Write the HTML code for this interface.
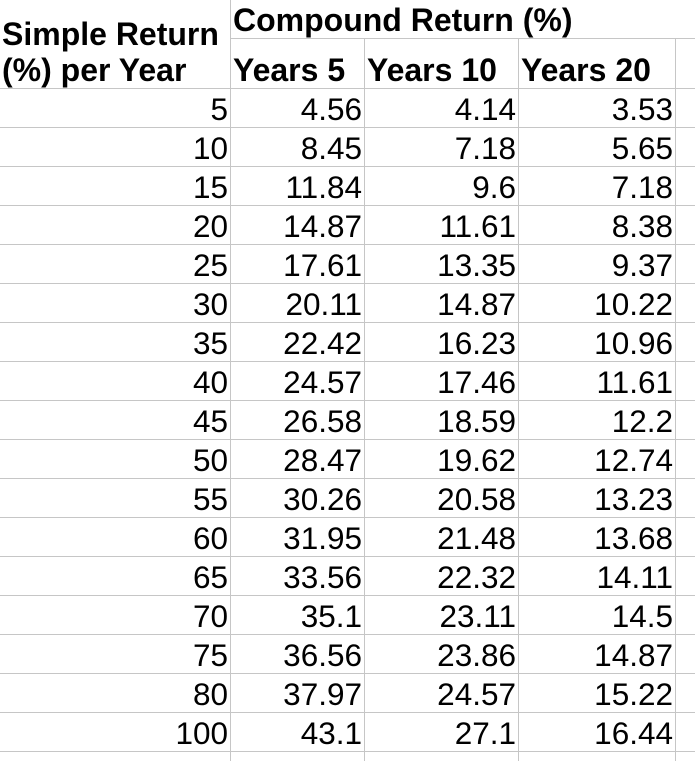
<!DOCTYPE html>
<html><head><meta charset="utf-8"><style>
html,body{margin:0;padding:0;background:#fff;}
#sheet{position:relative;width:695px;height:761px;overflow:hidden;font-family:"Liberation Sans",sans-serif;color:#000;}
.vl{position:absolute;width:1px;background:#c6c6c6;}
.hl{position:absolute;height:1px;background:#c6c6c6;}
.t{position:absolute;white-space:nowrap;font-size:31.5px;line-height:30px;}
.b{font-weight:bold;font-size:32px;}
</style></head><body>
<div id="sheet">
  <div class="t b" style="left:2px;top:19px">Simple Return</div>
  <div class="t b" style="left:2px;top:55px">(%) per Year</div>
  <div class="t b" style="left:233px;top:5px">Compound Return (%)</div>
  <div class="t b" style="left:233px;top:55px">Years 5</div>
  <div class="t b" style="left:367px;top:55px">Years 10</div>
  <div class="t b" style="left:521px;top:55px">Years 20</div>
</div>
<script>
const simple=[5,10,15,20,25,30,35,40,45,50,55,60,65,70,75,80,100];
const y5=["4.56","8.45","11.84","14.87","17.61","20.11","22.42","24.57","26.58","28.47","30.26","31.95","33.56","35.1","36.56","37.97","43.1"];
const y10=["4.14","7.18","9.6","11.61","13.35","14.87","16.23","17.46","18.59","19.62","20.58","21.48","22.32","23.11","23.86","24.57","27.1"];
const y20=["3.53","5.65","7.18","8.38","9.37","10.22","10.96","11.61","12.2","12.74","13.23","13.68","14.11","14.5","14.87","15.22","16.44"];
const sheet=document.getElementById('sheet');
const colRight=[230,364,518,675];
const rowTop=88,rowH=39;
[[230,0],[364,38],[518,38],[675,38]].forEach(([x,y0])=>{
  const d=document.createElement('div');d.className='vl';
  d.style.left=x+'px';d.style.top=y0+'px';d.style.height=(761-y0)+'px';
  
  
  sheet.appendChild(d);
});
const h0=document.createElement('div');h0.className='hl';
h0.style.left='230px';h0.style.top='38px';h0.style.width='465px';


sheet.appendChild(h0);
for(let i=0;i<=simple.length;i++){
  const d=document.createElement('div');d.className='hl';
  d.style.left='0px';d.style.top=(rowTop+i*rowH)+'px';d.style.width='695px';
  
  
  sheet.appendChild(d);
}
const cols=[simple.map(String),y5,y10,y20];
const names=['simple-return-cell','years-5-cell','years-10-cell','years-20-cell'];
cols.forEach((arr,c)=>{
  arr.forEach((v,i)=>{
    const d=document.createElement('div');d.className='t';
    d.textContent=v;
    d.style.right=(695-colRight[c]+2)+'px';
    d.style.top=(rowTop+i*rowH+6)+'px';
    
    
    sheet.appendChild(d);
  });
});
</script>
</body></html>
